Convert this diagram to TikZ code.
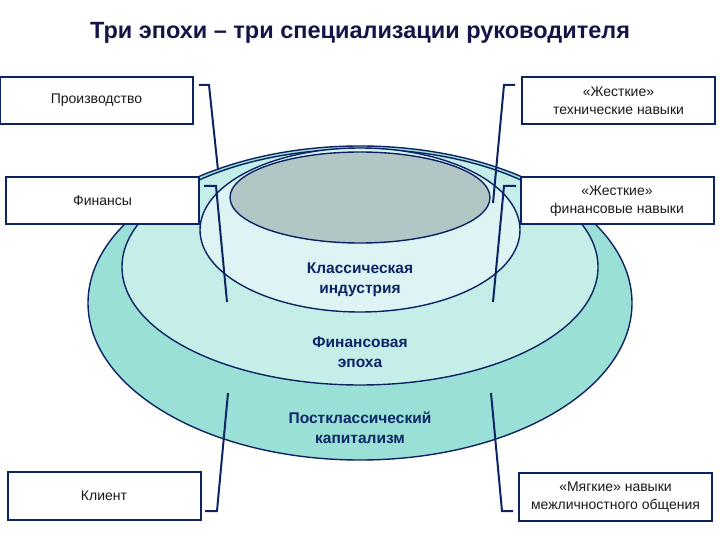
\documentclass[tikz,border=0pt]{standalone}
\usepackage{fontspec}
\setmainfont{Liberation Sans}
\definecolor{navy}{RGB}{12,36,100}
\definecolor{titlec}{RGB}{20,20,70}
\definecolor{outerc}{RGB}{155,224,214}
\definecolor{midc}{RGB}{198,238,232}
\definecolor{cylc}{RGB}{222,244,244}
\definecolor{grayc}{RGB}{178,198,198}
\begin{document}
\begin{tikzpicture}[x=1pt,y=-1pt,
  ring/.style={draw=navy,line width=1.4pt},
  labelbox/.style={draw=navy,line width=2pt,fill=white,minimum width=193pt,minimum height=47pt,
    inner sep=0pt,align=center,font=\fontsize{14}{18.5}\selectfont,text=black!90},
  eralabel/.style={align=center,font=\fontsize{15.5}{20}\selectfont\bfseries,text=navy},
  bracket/.style={draw=navy,line width=2pt}]
\useasboundingbox (0,0) rectangle (720,540);
% title
\node[font=\fontsize{23.5}{28}\selectfont\bfseries,text=titlec] (title) at (360,33) {Три эпохи – три специализации руководителя};
% ellipses
\path[ring,fill=outerc] (360,303) ellipse [x radius=272pt,y radius=157pt];
\path[ring,fill=midc] (360,267) ellipse [x radius=238pt,y radius=118pt];
\path[ring,fill=cylc] (360,230) ellipse [x radius=160pt,y radius=82pt];
\path[ring,fill=grayc] (360,197.5) ellipse [x radius=130pt,y radius=45.5pt];
% era labels
\node[eralabel] (e1) at (360,280) {Классическая\\индустрия};
\node[eralabel] (e2) at (360,352) {Финансовая\\эпоха};
\node[eralabel] (e3) at (360,428) {Постклассический\\капитализм};
% boxes
\node[labelbox] (prod) at (96.5,100.5) {Производство};
\node[labelbox] (tech) at (618.5,101) {«Жесткие»\\технические навыки};
\node[labelbox] (fin) at (102.5,200.5) {Финансы};
\node[labelbox] (finsk) at (617,201) {«Жесткие»\\финансовые навыки};
\node[labelbox,minimum height=48pt] (cli) at (104,496) {Клиент};
\node[labelbox,minimum height=48pt] (soft) at (615.5,497) {«Мягкие» навыки\\межличностного общения};
% bracket coordinates
\coordinate (p1) at (199,85); \coordinate (p2) at (209,85); \coordinate (p3) at (218,170);
\coordinate (f1) at (204,186); \coordinate (f2) at (216,186); \coordinate (f3) at (227,302);
\coordinate (c1) at (205,511); \coordinate (c2) at (217,511); \coordinate (c3) at (228,393);
\coordinate (t1) at (515,85); \coordinate (t2) at (504,85); \coordinate (t3) at (493,203);
\coordinate (s1) at (516,186); \coordinate (s2) at (504,186); \coordinate (s3) at (493,302);
\coordinate (m1) at (513,511); \coordinate (m2) at (502,511); \coordinate (m3) at (491,393);
\draw[bracket] (p1) -- (p2) -- (p3);
\draw[bracket] (f1) -- (f2) -- (f3);
\draw[bracket] (c1) -- (c2) -- (c3);
\draw[bracket] (t1) -- (t2) -- (t3);
\draw[bracket] (s1) -- (s2) -- (s3);
\draw[bracket] (m1) -- (m2) -- (m3);
\end{tikzpicture}
\end{document}
